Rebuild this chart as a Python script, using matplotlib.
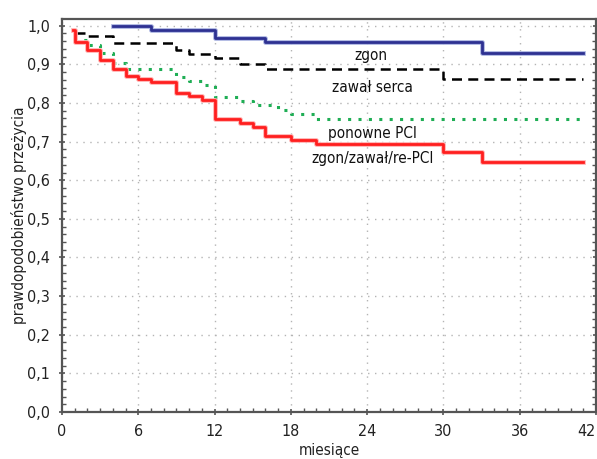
import matplotlib
matplotlib.use("Agg")
import matplotlib.pyplot as plt
import matplotlib.patheffects as pe
from matplotlib.ticker import MultipleLocator, FuncFormatter

# ---- data ----
zgon_t = [4, 7, 12, 16, 33, 41]
zgon_v = [1.000, 0.989, 0.969, 0.957, 0.929, 0.929]

zawal_t = [1, 2, 4, 9, 10, 12, 14, 16, 30, 41]
zawal_v = [0.982, 0.973, 0.954, 0.937, 0.926, 0.916, 0.900, 0.887, 0.861, 0.861]

pci_t = [0.9, 1, 2, 3, 4, 5, 9, 10, 11, 12, 14, 15, 17, 18, 20, 41]
pci_v = [0.989, 0.963, 0.950, 0.930, 0.903, 0.888, 0.868, 0.857, 0.847, 0.816,
         0.805, 0.795, 0.782, 0.771, 0.758, 0.758]

comb_t = [0.9, 1, 2, 3, 4, 5, 6, 7, 9, 10, 11, 12, 14, 15, 16, 18, 20, 30, 33, 41]
comb_v = [0.989, 0.959, 0.937, 0.911, 0.887, 0.871, 0.861, 0.853, 0.827, 0.818,
          0.808, 0.758, 0.747, 0.737, 0.714, 0.704, 0.693, 0.674, 0.648, 0.648]

labels = ["zgon", "zawał serca", "ponowne PCI", "zgon/zawał/re-PCI"]
label_x = [24.3, 24.4, 24.45, 24.4]
label_y = [0.924, 0.841, 0.722, 0.657]

x_ticks = [0, 6, 12, 18, 24, 30, 36, 42]
y_ticks = [0.0, 0.1, 0.2, 0.3, 0.4, 0.5, 0.6, 0.7, 0.8, 0.9, 1.0]

FONT = dict(family="DejaVu Sans", stretch="condensed")

fig = plt.figure(figsize=(5.97, 4.59), dpi=100)
ax = fig.add_axes([62 / 597, 47 / 459, 534 / 597, 392.7 / 459])

ax.step(zgon_t, zgon_v, where="post", color="#2e3192", lw=2.0,
        path_effects=[pe.Stroke(linewidth=3.4, foreground="#a9b3e0"), pe.Normal()], zorder=5)
ax.step(zawal_t, zawal_v, where="post", color="black", lw=1.8,
        linestyle=(0, (4, 2.5)), zorder=4)
ax.step(pci_t, pci_v, where="post", color="#1fae55", lw=2.2,
        linestyle=(0, (1, 2.4)), zorder=4)
ax.step(comb_t, comb_v, where="post", color="#ff1f1f", lw=2.0,
        path_effects=[pe.Stroke(linewidth=3.4, foreground="#ffb0b0"), pe.Normal()], zorder=5)

for s, x, y in zip(labels, label_x, label_y):
    ax.text(x, y, s, ha="center", va="center", fontsize=11, color="#111111", **FONT)

ax.set_xlim(0, 42)
ax.set_ylim(0, 1.0166)
ax.set_xticks(x_ticks)
ax.set_yticks(y_ticks)
ax.xaxis.set_minor_locator(MultipleLocator(1))
ax.yaxis.set_minor_locator(MultipleLocator(0.02))
ax.yaxis.set_major_formatter(FuncFormatter(lambda v, p: f"{v:.1f}".replace(".", ",")))
ax.xaxis.set_major_formatter(FuncFormatter(lambda v, p: f"{int(round(v))}"))

ax.grid(True, which="major", color="#b4b4b4", linestyle=(0, (1, 4)), lw=1.0)
ax.tick_params(which="major", direction="inout", length=5, width=1.2, color="#555555",
               labelsize=11.5, pad=6, right=True)
ax.tick_params(which="minor", direction="in", length=3, width=1.0, color="#555555", right=True)
for lab in ax.get_xticklabels() + ax.get_yticklabels():
    lab.set_fontstretch("condensed")
    lab.set_family("DejaVu Sans")
    lab.set_color("#222222")
ax.get_xticklabels()[-1].set_ha("right")

for sp in ax.spines.values():
    sp.set_color("#555555")
    sp.set_linewidth(1.6)

ax.set_xlabel("miesiące", fontsize=11, labelpad=3, color="#222222", **FONT)
ax.set_ylabel("prawdopodobieństwo przeżycia", fontsize=11, labelpad=0, color="#222222", **FONT)

fig.savefig("out.png", dpi=100)
